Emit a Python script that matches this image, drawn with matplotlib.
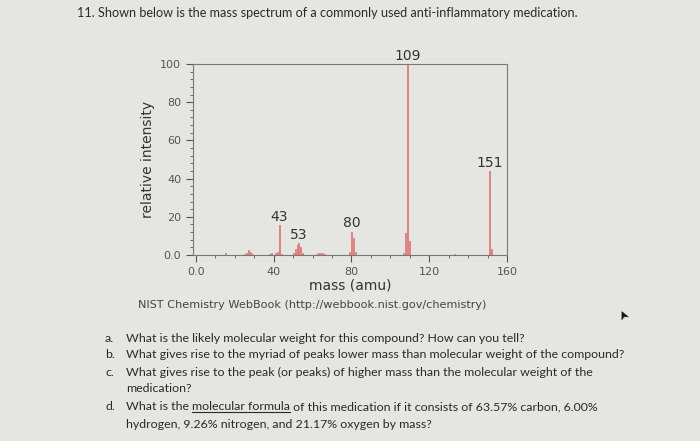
import numpy as np
import matplotlib.pyplot as plt
from matplotlib.ticker import MultipleLocator

# peaks of the spectrum (m/z, relative intensity)
mass = [15, 25, 26, 27, 28, 29, 38, 39, 41, 42, 43, 44,
        50, 51, 52, 53, 54, 55, 62, 63, 64, 65, 66,
        79, 80, 81, 82, 107, 108, 109, 110, 133, 151, 152]
intensity = [0.8, 0.6, 1.2, 2.4, 1.6, 0.6, 0.6, 1.2, 0.9, 1.8, 15.5, 0.6,
             0.8, 3.0, 5.0, 6.3, 4.0, 1.0, 0.5, 1.0, 1.3, 1.2, 0.5,
             1.5, 12.3, 8.8, 1.4, 0.8, 11.4, 100, 7.5, 0.4, 43.8, 3.3]
labelled = [43, 53, 80, 109, 151]

questions = [
    ("a.", "What is the likely molecular weight for this compound? How can you tell?"),
    ("b.", "What gives rise to the myriad of peaks lower mass than molecular weight of the compound?"),
    ("c.", "What gives rise to the peak (or peaks) of higher mass than the molecular weight of the\nmedication?"),
]

W, H = 700, 441
fig = plt.figure(figsize=(7, 4.41), dpi=100, facecolor='#e5e5e2')

def fx(px):
    return px / W

def fy(py):
    return 1 - py / H

ax = fig.add_axes([fx(193), fy(255), fx(507) - fx(193), fy(64) - fy(255)])
ax.set_facecolor('#e5e5e2')
ax.bar(mass, intensity, width=0.5, color='#e07b7b', edgecolor='#e07b7b', linewidth=0.6)
for m in labelled:
    v = intensity[mass.index(m)]
    ax.annotate(str(m), (m, v), xytext=(0, 1), textcoords='offset points',
                ha='center', va='bottom', fontsize=10, color='#333333',
                annotation_clip=False)

ax.set_xlim(-1.5, 160)
ax.set_ylim(0, 100)
ax.set_xticks([0, 40, 80, 120, 160])
ax.set_xticklabels(['0.0', '40', '80', '120', '160'])
ax.set_yticks([0, 20, 40, 60, 80, 100])
ax.set_yticklabels(['0.0', '20', '40', '60', '80', '100'])
ax.xaxis.set_minor_locator(MultipleLocator(10))
ax.yaxis.set_minor_locator(MultipleLocator(4))
ax.tick_params(which='both', direction='out', colors='#555555', labelsize=8)
ax.tick_params(which='major', length=5, width=0.8)
ax.tick_params(which='minor', length=2.5, width=0.6)
for s in ax.spines.values():
    s.set_color('#777777')
    s.set_linewidth(0.8)
ax.set_xlabel('mass (amu)', fontsize=10, color='#333333', labelpad=1)
ax.set_ylabel('relative intensity', fontsize=10, color='#333333', labelpad=4)

fig.text(fx(138), fy(305), 'NIST Chemistry WebBook (http://webbook.nist.gov/chemistry)',
         fontsize=8.15, color='#444444', va='center')

qfont = dict(family='Lato', fontsize=8.95, color='#2a2a2a', va='center')
fig.text(fx(77), fy(13), '11. Shown below is the mass spectrum of a commonly used anti-inflammatory medication.',
         **dict(qfont, fontsize=9.1))

ys = [339, 355, 372]
for (tag, txt), y in zip(questions, ys):
    fig.text(fx(105), fy(y), tag, **qfont)
    for i, line in enumerate(txt.split('\n')):
        fig.text(fx(126), fy(y + 17 * i), line, **qfont)

# question d with underlined words
fig.text(fx(105), fy(407), 'd.', **qfont)
t1 = fig.text(fx(126), fy(407), 'What is the ', **qfont)
fig.canvas.draw()
r = fig.canvas.get_renderer()
bb1 = t1.get_window_extent(r)
t2 = fig.text(bb1.x1 / W, fy(407), 'molecular formula', **qfont)
bb2 = t2.get_window_extent(r)
fig.text(bb2.x1 / W, fy(407), ' of this medication if it consists of 63.57% carbon, 6.00%', **qfont)
fig.add_artist(plt.Line2D([bb2.x0 / W, bb2.x1 / W], [(bb2.y0 + 1) / H] * 2,
                          color='#2a2a2a', lw=0.8, transform=fig.transFigure))
fig.text(fx(126), fy(424), 'hydrogen, 9.26% nitrogen, and 21.17% oxygen by mass?', **qfont)

# mouse pointer in the photo
fig.text(fx(623), fy(313), '\u27a4', fontsize=9, color='#111111', rotation=115,
         ha='center', va='center')

fig.savefig('out.png', dpi=100, facecolor=fig.get_facecolor())
